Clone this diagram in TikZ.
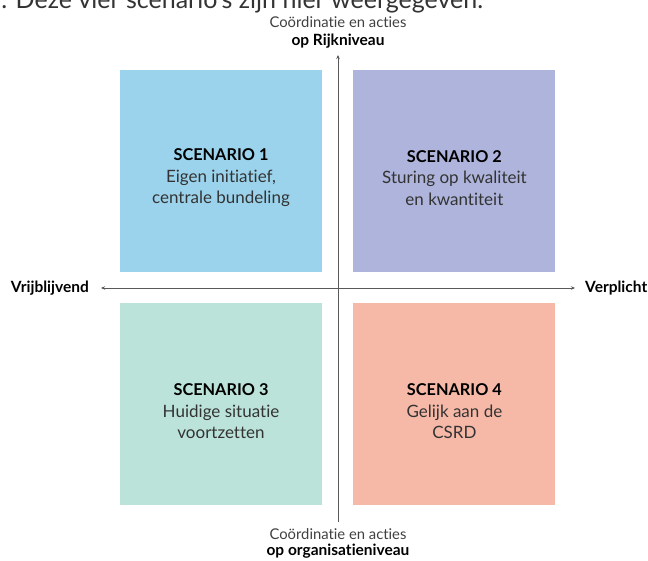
\documentclass[tikz,border=0pt]{standalone}
\usepackage{fontspec}
\setmainfont{Lato}[Ligatures=NoCommon]
\usetikzlibrary{positioning}
\usetikzlibrary{arrows.meta}
\tikzset{>={Stealth[length=4pt,width=3.5pt]}}
\definecolor{scenblue}{HTML}{9BD3EC}
\definecolor{scenpurple}{HTML}{AEB4DB}
\definecolor{scengreen}{HTML}{BCE3D9}
\definecolor{scensalmon}{HTML}{F6B9A8}
\tikzset{
  quad/.style={minimum width=202pt, minimum height=202pt, inner sep=0pt},
  quadtext/.style={align=center, text=black!80, font=\fontsize{17}{21.5}\selectfont},
  axis/.style={draw=black!65, line width=0.8pt},
  axislbl/.style={font=\bfseries\fontsize{15.5}{18}\selectfont},
  toplbl/.style={text=black!75, font=\fontsize{14.8}{17}\selectfont}
}
\newcommand{\scenhead}[1]{{\bfseries\fontsize{16.3}{21.5}\selectfont\color{black} SCENARIO #1}}

\begin{document}
\begin{tikzpicture}[x=1pt, y=-1pt]
  \clip (0,0) rectangle (648,560);
  \useasboundingbox (0,0) rectangle (648,560);

  % Lopende tekst boven
  \node[anchor=base west, inner sep=0pt, text=black!80, font=\fontsize{25}{25}\selectfont] (intro) at (-7,8) {r. Deze vier scenario's zijn hier weergegeven.};

  % Kwadranten
  \node[quad, fill=scenblue] (sc1) at (221,171) {};
  \node[quad, fill=scenpurple, right=31pt of sc1] (sc2) {};
  \node[quad, fill=scengreen, below=31pt of sc1] (sc3) {};
  \node[quad, fill=scensalmon, right=31pt of sc3] (sc4) {};

  \node[quadtext] (sc1txt) at ([yshift=-7pt]sc1.center) {\scenhead{1}\\Eigen initiatief,\\centrale bundeling};
  \node[quadtext] (sc2txt) at ([yshift=-7pt]sc2.center) {\scenhead{2}\\Sturing op kwaliteit\\en kwantiteit};
  \node[quadtext] (sc3txt) at ([yshift=-7pt]sc3.center) {\scenhead{3}\\Huidige situatie\\voortzetten};
  \node[quadtext] (sc4txt) at ([yshift=-7pt]sc4.center) {\scenhead{4}\\Gelijk aan de\\CSRD};

  % Assen
  \coordinate (ytop) at (338,55);
  \coordinate (ybot) at (338,522);
  \coordinate (xlft) at (101,288);
  \coordinate (xrgt) at (575,288);
  \draw[->, axis] (ybot) -- (ytop);
  \draw[<->, axis] (xlft) -- (xrgt);

  \node[axislbl, anchor=east, inner sep=0pt] (vrij) at (89,288) {Vrijblijvend};
  \node[axislbl, anchor=west, inner sep=0pt] (verpl) at (585,288) {Verplicht};

  \node[toplbl] (rijk1) at (338,22) {Coördinatie en acties};
  \node[axislbl] (rijk2) at (338,41) {op Rijkniveau};
  \node[toplbl] (org1) at (338,534) {Coördinatie en acties};
  \node[axislbl] (org2) at (338,551) {op organisatieniveau};
\end{tikzpicture}
\end{document}
